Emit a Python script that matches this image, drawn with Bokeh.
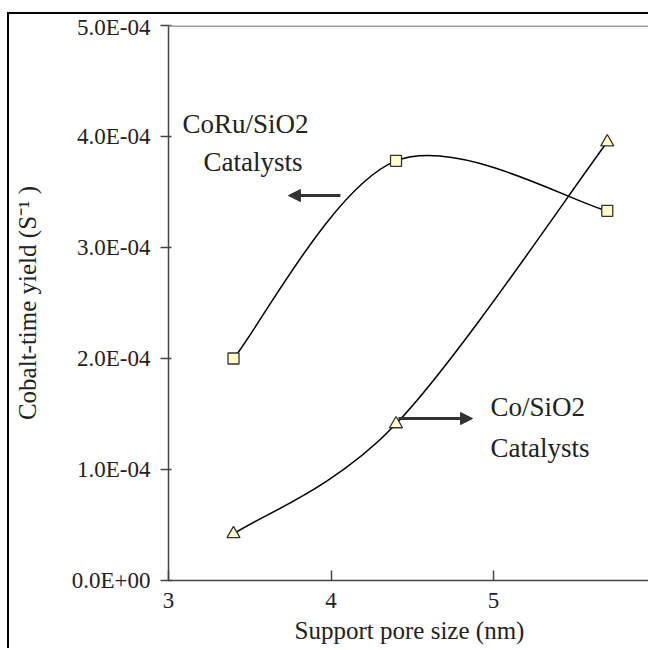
from bokeh.plotting import figure
from bokeh.models import Range1d, FixedTicker, Arrow, NormalHead, Span, Label
from bokeh.core.properties import value
from bokeh.embed import file_html
from bokeh.resources import INLINE

# ---- data ----
pore_size = [3.4, 4.4, 5.7]
coru_yield = [2.00e-4, 3.78e-4, 3.33e-4]   # CoRu/SiO2 catalysts (squares)
co_yield = [0.42e-4, 1.41e-4, 3.95e-4]     # Co/SiO2 catalysts (triangles)
x_ticks = [3, 4, 5]
y_ticks = [0, 0.0001, 0.0002, 0.0003, 0.0004, 0.0005]
y_tick_labels = ["0.0E+00", "1.0E-04", "2.0E-04", "3.0E-04", "4.0E-04", "5.0E-04"]
coru_text = ["CoRu/SiO2", "Catalysts"]
co_text = ["Co/SiO2", "Catalysts"]

FONT = "Liberation Serif"
TXT = "#222222"

# outer frame offsets (picture border sits at x=7, y=12)
OX, OY, BW = 7, 12, 2


def smooth_segments(xs, ys):
    """Cubic Bezier control points of a smoothed line through the points."""
    n = len(xs)
    seg = dict(x0=[], y0=[], x1=[], y1=[], cx0=[], cy0=[], cx1=[], cy1=[])
    for i in range(n - 1):
        im, ip = max(i - 1, 0), min(i + 2, n - 1)
        seg["x0"].append(xs[i]); seg["y0"].append(ys[i])
        seg["x1"].append(xs[i + 1]); seg["y1"].append(ys[i + 1])
        seg["cx0"].append(xs[i] + (xs[i + 1] - xs[im]) / 6)
        seg["cy0"].append(ys[i] + (ys[i + 1] - ys[im]) / 6)
        seg["cx1"].append(xs[i + 1] - (xs[ip] - xs[i]) / 6)
        seg["cy1"].append(ys[i + 1] - (ys[ip] - ys[i]) / 6)
    return seg


p = figure(width=650 - OX - BW, height=650 - OY - BW,
           x_range=Range1d(3, 5.966), y_range=Range1d(0, 5e-4),
           output_backend="svg", toolbar_location=None,
           min_border_left=168 - OX - BW, min_border_right=0,
           min_border_top=25 - OY - BW, min_border_bottom=70)
p.styles = {"margin-left": f"{OX}px", "margin-top": f"{OY}px",
            "border-left": f"{BW}px solid black", "border-top": f"{BW}px solid black"}
p.outline_line_color = None
p.xgrid.visible = False
p.ygrid.visible = False
p.background_fill_color = "white"
p.border_fill_color = "white"

# grey top border of the plot area
p.add_layout(Span(location=5e-4, dimension="width", line_color="#a0a0a0", line_width=3))

# smoothed lines
for ys in (coru_yield, co_yield):
    s = smooth_segments(pore_size, ys)
    p.bezier(x0=s["x0"], y0=s["y0"], x1=s["x1"], y1=s["y1"],
             cx0=s["cx0"], cy0=s["cy0"], cx1=s["cx1"], cy1=s["cy1"],
             line_color="black", line_width=1.5)

p.scatter(pore_size, coru_yield, marker="square", size=11,
          fill_color="#ffffcc", line_color="#333333", line_width=1.3)
p.scatter(pore_size, co_yield, marker="triangle", size=13,
          fill_color="#ffffcc", line_color="#333333", line_width=1.3)

# annotations
p.text(x=[3.086, 3.215], y=[4.117e-4, 3.766e-4], text=coru_text,
       text_font=value(FONT), text_font_size="27px", text_color=TXT,
       text_baseline="middle", text_align="left")
p.text(x=[4.982, 4.982], y=[1.559e-4, 1.198e-4], text=co_text,
       text_font=value(FONT), text_font_size="27px", text_color=TXT,
       text_baseline="middle", text_align="left")

p.add_layout(Arrow(end=NormalHead(size=12, fill_color="#333333", line_color="#333333"),
                   x_start=4.058, y_start=3.468e-4, x_end=3.738, y_end=3.468e-4,
                   line_color="#333333", line_width=3))
p.add_layout(Arrow(end=NormalHead(size=12, fill_color="#333333", line_color="#333333"),
                   x_start=4.415, y_start=1.459e-4, x_end=4.871, y_end=1.459e-4,
                   line_color="#333333", line_width=3))

# x axis
xa = p.xaxis[0]
xa.ticker = FixedTicker(ticks=x_ticks)
xa.major_tick_in = 10
xa.major_tick_out = 0
xa.minor_tick_line_color = None
xa.axis_line_color = "#444444"
xa.axis_line_width = 1.5
xa.major_tick_line_color = "#444444"
xa.major_tick_line_width = 1.5
xa.major_label_text_font = FONT
xa.major_label_text_font_size = "23px"
xa.major_label_text_color = TXT
xa.major_label_standoff = 12
xa.axis_label = "Support pore size (nm)"
xa.axis_label_text_font = FONT
xa.axis_label_text_font_size = "25px"
xa.axis_label_text_font_style = "normal"
xa.axis_label_text_color = TXT
xa.axis_label_standoff = 6

# "6" tick label at the right edge (clipped by the picture edge in the reference)
p.add_layout(Label(x=6, y=0, text="6", text_font=FONT, text_font_size="23px",
                   text_color=TXT, text_align="right", text_baseline="top",
                   y_offset=-12, x_offset=-8))

# y axis
ya = p.yaxis[0]
ya.ticker = FixedTicker(ticks=y_ticks)
ya.major_label_overrides = dict(zip(y_ticks, y_tick_labels))
ya.major_tick_in = 3
ya.major_tick_out = 8
ya.minor_tick_line_color = None
ya.axis_line_color = "#444444"
ya.axis_line_width = 1.5
ya.major_tick_line_color = "#444444"
ya.major_tick_line_width = 1.5
ya.major_label_text_font = FONT
ya.major_label_text_font_size = "23px"
ya.major_label_text_color = TXT
ya.major_label_standoff = 10
ya.axis_label = "Cobalt-time yield (S\u207b\u00b9 )"
ya.axis_label_text_font = FONT
ya.axis_label_text_font_size = "25px"
ya.axis_label_text_font_style = "normal"
ya.axis_label_text_color = TXT
ya.axis_label_standoff = 28

open("out.html", "w").write(file_html(p, INLINE))
